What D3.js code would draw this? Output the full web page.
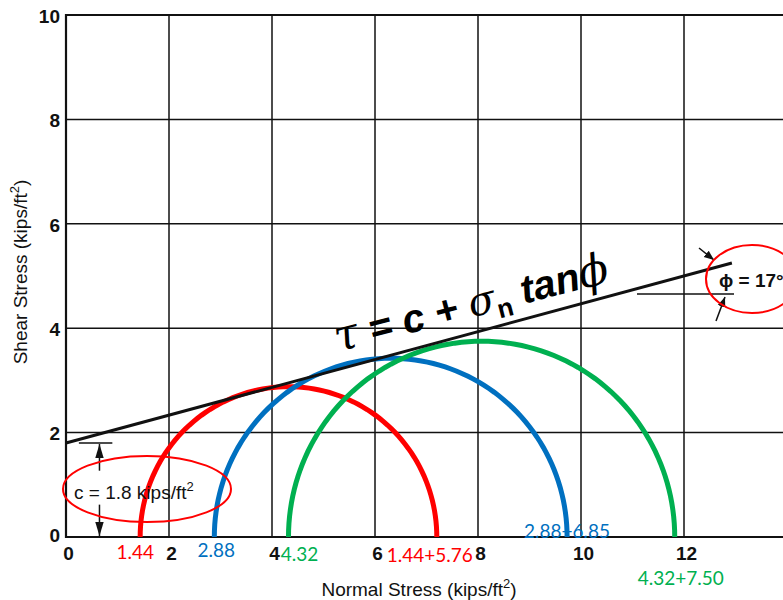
<!DOCTYPE html>
<html><head><meta charset="utf-8">
<script src="https://cdn.jsdelivr.net/npm/d3@7/dist/d3.min.js"></script>
<style>
html,body{margin:0;padding:0;background:#fff;}
svg{display:block;}
</style></head>
<body>
<svg id="c" width="783" height="600"></svg>
<script>
// ---- data ----
const xTicks = [0, 2, 4, 6, 8, 10, 12];
const yTicks = [0, 2, 4, 6, 8, 10];
const sigma3 = [1.44, 2.88, 4.32];          // confining stress (circle left end)
const deviator = [5.76, 6.85, 7.50];        // deviator stress (circle diameter)
const envelopeSigma = [0, 12.93];
const envelopeTau = [1.8, 5.25];
const cohesion = 1.8;
const phiDeg = 17;
const xTitle = "Normal Stress (kips/ft";
const yTitle = "Shear Stress (kips/ft";

// ---- styles ----
const circleColors = ["#ff0000", "#0070c0", "#00b050"];
const ink = "#111";
const sans = "Liberation Sans, Arial, sans-serif";

const svg = d3.select("#c");
const x = d3.scaleLinear().domain([0, 14]).range([66, 787]);
const y = d3.scaleLinear().domain([0, 10]).range([537, 15]);

// grid
const g = svg.append("g");
g.selectAll("line.v").data(xTicks.slice(1)).join("line")
  .attr("x1", d => x(d)).attr("x2", d => x(d))
  .attr("y1", y(10)).attr("y2", y(0))
  .attr("stroke", ink).attr("stroke-width", 1.5);
g.selectAll("line.h").data(yTicks.slice(1)).join("line")
  .attr("x1", x(0)).attr("x2", 783)
  .attr("y1", d => y(d)).attr("y2", d => y(d))
  .attr("stroke", ink).attr("stroke-width", d => d === 10 ? 2 : 1.5);
// axes lines
g.append("line").attr("x1", x(0)).attr("x2", x(0)).attr("y1", y(10) - 1).attr("y2", y(0) + 1)
  .attr("stroke", ink).attr("stroke-width", 2.2);
g.append("line").attr("x1", x(0)).attr("x2", 783).attr("y1", y(0)).attr("y2", y(0))
  .attr("stroke", ink).attr("stroke-width", 2.2);

// tick labels using d3 axes (domain/ticks hidden)
const xAxis = d3.axisBottom(x).tickValues(xTicks).tickSize(0).tickPadding(10).tickFormat(d3.format("d"));
const xa = svg.append("g").attr("transform", `translate(2,${y(0)})`).call(xAxis);
xa.select(".domain").remove();
xa.selectAll("text").attr("font-family", sans)
  .attr("font-weight", "bold").attr("font-size", 19).attr("fill", ink);

const yAxis = d3.axisLeft(y).tickValues(yTicks).tickSize(0).tickPadding(5).tickFormat(d3.format("d"));
const ya = svg.append("g").attr("transform", `translate(${x(0) - 1},0)`).call(yAxis);
ya.select(".domain").remove();
ya.selectAll("text").attr("font-family", sans)
  .attr("font-weight", "bold").attr("font-size", 19).attr("fill", ink)
  .attr("dy", d => d === 0 ? "0.22em" : "0.38em");

// axis titles
const xt = svg.append("text").attr("x", 419).attr("y", 596).attr("text-anchor", "middle")
  .attr("font-family", sans).attr("font-size", 19).attr("fill", ink);
xt.append("tspan").text(xTitle);
xt.append("tspan").attr("dy", -8).attr("font-size", 13).text("2");
xt.append("tspan").attr("dy", 8).text(")");

const yt = svg.append("text").attr("transform", "translate(27,272) rotate(-90)").attr("text-anchor", "middle")
  .attr("font-family", sans).attr("font-size", 19).attr("fill", ink);
yt.append("tspan").text(yTitle);
yt.append("tspan").attr("dy", -8).attr("font-size", 13).text("2");
yt.append("tspan").attr("dy", 8).text(")");

// Mohr circles (semicircles)
const line = d3.line().x(d => x(d[0])).y(d => y(d[1]));
const angles = d3.range(0, 181, 2).map(a => a * Math.PI / 180);
sigma3.forEach((s3, i) => {
  const r = deviator[i] / 2, c = s3 + r;
  const pts = angles.map(a => [c - r * Math.cos(a), r * Math.sin(a)]);
  svg.append("path").attr("d", line(pts)).attr("fill", "none")
    .attr("stroke", circleColors[i]).attr("stroke-width", 5);
});

// failure envelope
svg.append("path").attr("d", line(envelopeSigma.map((s, i) => [s, envelopeTau[i]])))
  .attr("fill", "none").attr("stroke", ink).attr("stroke-width", 3);

// value labels
const lblFont = "Lato, 'Open Sans', sans-serif";
const labels = [
  { t: sigma3[0].toFixed(2), px: x(sigma3[0]) - 5, py: 559, c: 0 },
  { t: sigma3[1].toFixed(2), px: x(sigma3[1]) + 2, py: 557, c: 1 },
  { t: sigma3[2].toFixed(2), px: x(sigma3[2]) + 11, py: 561, c: 2 },
  { t: sigma3[0].toFixed(2) + "+" + deviator[0].toFixed(2), px: x(sigma3[0] + deviator[0]) - 7, py: 562, c: 0 },
  { t: sigma3[1].toFixed(2) + "+" + deviator[1].toFixed(2), px: x(sigma3[1] + deviator[1]), py: 538, c: 1 },
  { t: sigma3[2].toFixed(2) + "+" + deviator[2].toFixed(2), px: x(sigma3[2] + deviator[2]) + 6, py: 585, c: 2 }
];
svg.selectAll("text.lbl").data(labels).join("text").attr("class", "lbl")
  .attr("x", d => d.px).attr("y", d => d.py).attr("text-anchor", "middle")
  .attr("font-family", lblFont).attr("font-size", 19).attr("fill", d => circleColors[d.c])
  .text(d => d.t);

// arrow marker
const defs = svg.append("defs");
defs.append("marker").attr("id", "ah").attr("viewBox", "0 0 10 10").attr("refX", 10).attr("refY", 5)
  .attr("markerWidth", 10).attr("markerHeight", 10).attr("markerUnits", "userSpaceOnUse").attr("orient", "auto")
  .append("path").attr("d", "M0,1 L10,5 L0,9 Z").attr("fill", ink);
defs.append("marker").attr("id", "ah2").attr("viewBox", "0 0 10 10").attr("refX", 10).attr("refY", 5)
  .attr("markerWidth", 14).attr("markerHeight", 14).attr("markerUnits", "userSpaceOnUse").attr("orient", "auto")
  .append("path").attr("d", "M0,2 L10,5 L0,8 Z").attr("fill", ink);

// cohesion annotation
svg.append("line").attr("x1", x(0.25)).attr("x2", x(0.9)).attr("y1", y(cohesion)).attr("y2", y(cohesion))
  .attr("stroke", ink).attr("stroke-width", 1.5);
svg.append("line").attr("x1", x(0.65)).attr("x2", x(0.65)).attr("y1", y(1.27)).attr("y2", y(cohesion) + 1)
  .attr("stroke", ink).attr("stroke-width", 1.5).attr("marker-end", "url(#ah2)");
svg.append("line").attr("x1", x(0.65)).attr("x2", x(0.65)).attr("y1", y(0.62)).attr("y2", y(0) - 1)
  .attr("stroke", ink).attr("stroke-width", 1.5).attr("marker-end", "url(#ah2)");
const ct = svg.append("text").attr("x", 74).attr("y", 499)
  .attr("font-family", sans).attr("font-size", 19).attr("fill", ink);
ct.append("tspan").text("c = " + cohesion + " kips/ft");
ct.append("tspan").attr("dy", -8).attr("font-size", 13).text("2");
svg.append("ellipse").attr("cx", 147).attr("cy", 489).attr("rx", 84).attr("ry", 33)
  .attr("fill", "none").attr("stroke", "#ff0000").attr("stroke-width", 2);

// phi annotation
svg.append("line").attr("x1", 637).attr("x2", 734).attr("y1", 294).attr("y2", 294)
  .attr("stroke", ink).attr("stroke-width", 1.5);
svg.append("line").attr("x1", 699).attr("y1", 248).attr("x2", 714).attr("y2", 260)
  .attr("stroke", ink).attr("stroke-width", 1.5).attr("marker-end", "url(#ah)");
svg.append("line").attr("x1", 716).attr("y1", 321).attr("x2", 725).attr("y2", 297)
  .attr("stroke", ink).attr("stroke-width", 1.5).attr("marker-end", "url(#ah)");
svg.append("text").attr("x", 719).attr("y", 287)
  .attr("font-family", sans).attr("font-weight", "bold")
  .attr("font-size", 19).attr("fill", ink).text("\u03d5 = " + phiDeg + "\u00b0");
svg.append("ellipse").attr("cx", 752).attr("cy", 279).attr("rx", 46).attr("ry", 34)
  .attr("fill", "none").attr("stroke", "#ff0000").attr("stroke-width", 2);

// equation
const eq = svg.append("text").attr("transform", "translate(338,352) rotate(-14.5)")
  .attr("font-family", sans).attr("font-weight", "bold")
  .attr("font-style", "italic").attr("font-size", 40).attr("fill", "#000");
const greek = "DejaVu Serif, serif";
eq.append("tspan").attr("font-family", greek).attr("font-weight", "normal").attr("font-size", 44).text("\u03c4");
eq.append("tspan").text(" = c + ");
eq.append("tspan").attr("font-family", greek).attr("font-weight", "normal").text("\u03c3");
eq.append("tspan").attr("font-size", 26).attr("dy", 8).attr("font-style", "normal").text("n");
eq.append("tspan").attr("dy", -8).text(" tan");
eq.append("tspan").attr("font-family", greek).attr("font-weight", "normal").attr("font-size", 44).text("\u03d5");
</script>
</body></html>
